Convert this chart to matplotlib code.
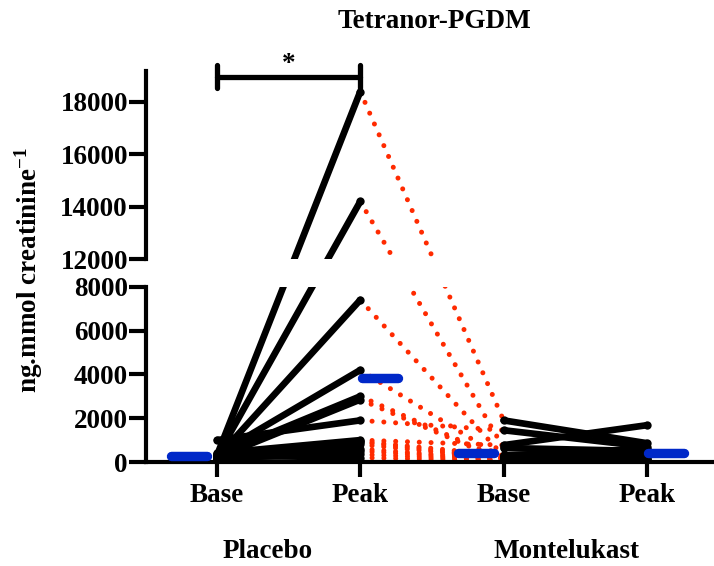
import numpy as np
import matplotlib
matplotlib.use("Agg")
import matplotlib.pyplot as plt

plt.rcParams['font.family'] = ['Liberation Serif', 'DejaVu Serif']
plt.rcParams['font.weight'] = 'bold'
plt.rcParams['mathtext.fontset'] = 'custom'
plt.rcParams['mathtext.rm'] = 'Liberation Serif:bold'
plt.rcParams['mathtext.bf'] = 'Liberation Serif:bold'
plt.rcParams['mathtext.default'] = 'bf'

# per-subject urinary tetranor-PGDM (ng/mmol creatinine)
conditions = ['Base', 'Peak', 'Base', 'Peak']
groups = ['Placebo', 'Montelukast']
placebo_base = [300, 250, 200, 350, 300, 200, 1000, 400, 150, 200, 100, 250, 150, 200, 300]
placebo_peak = [18400, 14200, 7400, 4200, 3000, 2850, 1900, 1000, 950, 900, 800, 600, 500, 350, 200]
montelukast_base = [1900, 640, 270, 150, 100, 50, 1450, 770, 300, 200, 150, 120, 80, 70, 50]
montelukast_peak = [860, 500, 300, 200, 400, 150, 700, 1680, 600, 350, 100, 50, 30, 50, 30]

lower_ticks = [0, 2000, 4000, 6000, 8000]
upper_ticks = [12000, 14000, 16000, 18000]

BLACK = 'black'
RED = '#ff2a00'
BLUE = '#0028c8'

# piecewise y mapping: gap between 8000 and 12000, steeper upper segment,
# so lines crossing the break stay straight on screen
BREAK_LO, BREAK_HI = 8000, 12000
GAP = 1269
UPPER_STRETCH = 1.195
knots = np.array([-1e6, BREAK_LO, BREAK_HI, 1e6])
mapped = np.array([-1e6, BREAK_LO, BREAK_LO + GAP,
                   BREAK_LO + GAP + (1e6 - BREAK_HI) * UPPER_STRETCH])


def fwd(v):
    return np.interp(v, knots, mapped)


def inv(u):
    return np.interp(u, mapped, knots)


W, H = 714, 566
fig = plt.figure(figsize=(W / 100, H / 100), dpi=100)

px = 0.0219          # pixels per mapped unit
left_px, bottom_px = 146, 104
lo_lim = (0, 8000)
hi_lim = (12000, 19200)

lo_h = (fwd(lo_lim[1]) - fwd(lo_lim[0])) * px
hi_b = bottom_px + (fwd(hi_lim[0]) - fwd(lo_lim[0])) * px
hi_h = (fwd(hi_lim[1]) - fwd(hi_lim[0])) * px

ax_lo = fig.add_axes([left_px / W, bottom_px / H, (W - left_px) / W, lo_h / H])
ax_hi = fig.add_axes([left_px / W, hi_b / H, (W - left_px) / W, hi_h / H])

x = np.arange(4)
n = len(placebo_base)
means = [np.mean(placebo_base), np.mean(placebo_peak),
         np.mean(montelukast_base), np.mean(montelukast_peak)]

for ax, lim in ((ax_lo, lo_lim), (ax_hi, hi_lim)):
    ax.set_yscale('function', functions=(fwd, inv))
    ax.set_ylim(*lim)
    ax.set_xlim(-0.495, 3.468)
    ax.patch.set_alpha(0)

    # placebo peak -> montelukast base, dotted
    for i in range(n):
        ax.plot([x[1], x[2]], [placebo_peak[i], montelukast_base[i]], color=RED,
                lw=3.6, ls=(0, (0.01, 2.35)), dash_capstyle='round', zorder=2)
    # within-treatment pairs
    for i in range(n):
        ax.plot([x[0], x[1]], [placebo_base[i], placebo_peak[i]], color=BLACK,
                lw=4.8, marker='o', ms=6, mew=0, solid_capstyle='round', zorder=3)
        ax.plot([x[2], x[3]], [montelukast_base[i], montelukast_peak[i]], color=BLACK,
                lw=4.8, marker='o', ms=6, mew=0, solid_capstyle='round', zorder=3)
    # group means, offset beside each column
    for j, m in enumerate(means):
        if j % 2 == 0:
            xs = [x[j] - 0.32, x[j] - 0.07]
        else:
            xs = [x[j] + 0.01, x[j] + 0.26]
        ax.plot(xs, [m, m], color=BLUE, lw=6.8, solid_capstyle='round', zorder=4)

    for s in ('top', 'right'):
        ax.spines[s].set_visible(False)
    ax.spines['left'].set_linewidth(3)
    ax.tick_params(axis='y', length=12, width=3, pad=1, labelsize=19.5)

ax_lo.spines['bottom'].set_linewidth(3)
ax_lo.set_yticks(lower_ticks)
ax_lo.set_xticks(x)
ax_lo.set_xticklabels(conditions)
ax_lo.tick_params(axis='x', length=11, width=3, pad=4, labelsize=19.5)

ax_hi.set_yticks(upper_ticks)
ax_hi.spines['bottom'].set_visible(False)
ax_hi.set_xticks([])

for ax in (ax_lo, ax_hi):
    ax.set_yticklabels([str(t) for t in ax.get_yticks()])

# significance bracket placebo base vs peak
ax_hi.plot([x[0], x[1]], [18950, 18950], color=BLACK, lw=3.8,
           solid_capstyle='round', clip_on=False)
for xb in (x[0], x[1]):
    ax_hi.plot([xb, xb], [18550, 19400], color=BLACK, lw=3.8,
               solid_capstyle='round', clip_on=False)
ax_hi.text(0.5, 19180, '*', ha='center', va='baseline', fontsize=19.5,
           fontweight='bold', clip_on=False)

fig.text(434 / W, 1 - 22 / H, 'Tetranor-PGDM', ha='center', va='center',
         fontsize=19.5, fontweight='bold')
fig.text(29 / W, 1 - 270 / H, 'ng.mmol creatinine$^{-1}$', ha='center', va='center',
         rotation=90, fontsize=19.5, fontweight='bold')
fig.text(268 / W, 1 - 551 / H, groups[0], ha='center', va='center',
         fontsize=19.5, fontweight='bold')
fig.text(566 / W, 1 - 551 / H, groups[1], ha='center', va='center',
         fontsize=19.5, fontweight='bold')

fig.savefig('out.png', dpi=100)
